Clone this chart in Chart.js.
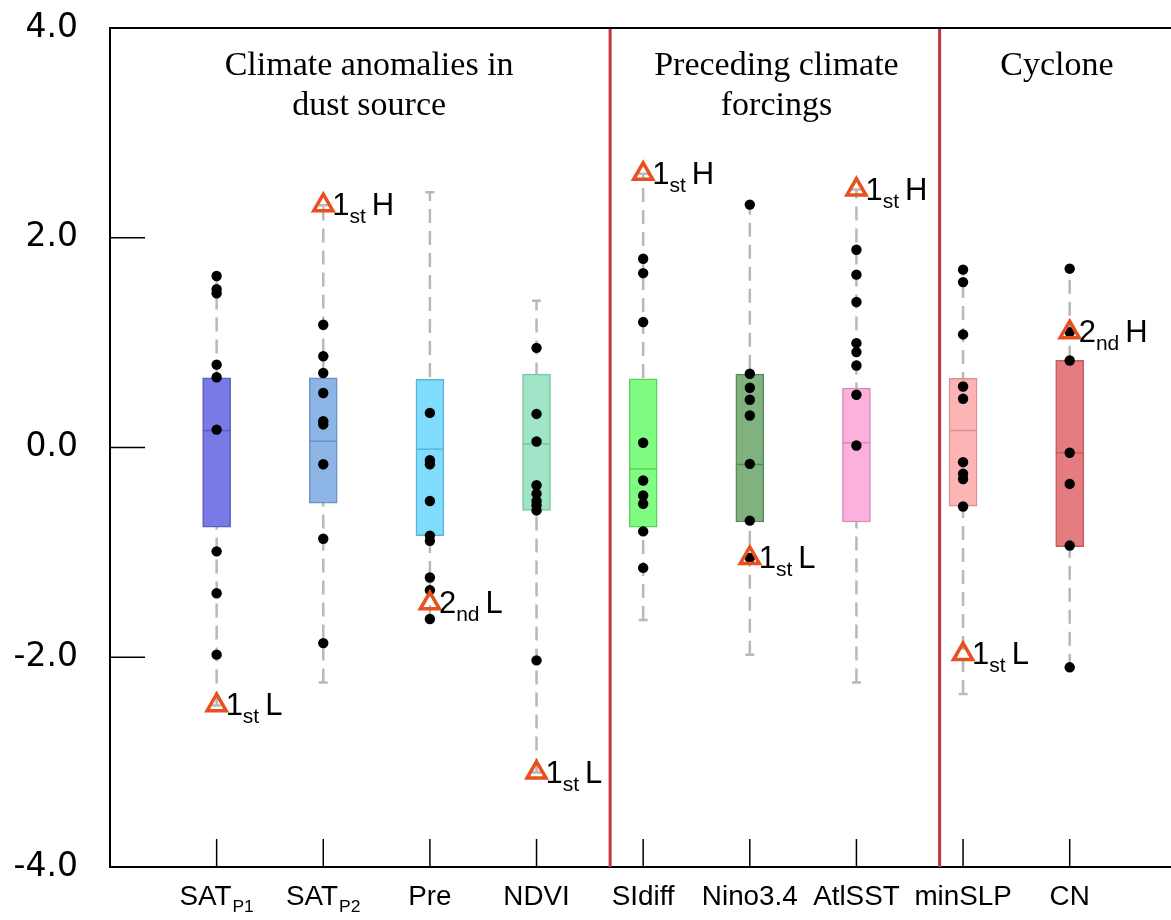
<!DOCTYPE html>
<html>
<head>
<meta charset="utf-8">
<script src="https://cdn.jsdelivr.net/npm/chart.js@4.4.1/dist/chart.umd.min.js"></script>
<style>
html,body{margin:0;padding:0;background:#fff;overflow:hidden}
canvas{display:block}
</style>
</head>
<body>
<canvas id="c" width="1171" height="920"></canvas>
<script>
// ---- categories & labels ----
const categories   = ['SAT','SAT','Pre','NDVI','SIdiff','Nino3.4','AtlSST','minSLP','CN'];
const categorySubs = ['P1','P2','','','','','','',''];
const yTickValues  = [-4, -2, 0, 2, 4];

// ---- box statistics ----
const boxQ1   = [-0.76, -0.53, -0.84, -0.60, -0.76, -0.71, -0.71, -0.56, -0.945];
const boxQ3   = [ 0.665, 0.665, 0.65, 0.70, 0.655, 0.70, 0.566, 0.66, 0.83];
const boxMed  = [ 0.162, 0.06, -0.016, 0.035, -0.204, -0.162, 0.045, 0.162, -0.05];
const whiskLo = [-2.46, -2.24, -1.635, -3.10, -1.645, -1.975, -2.24, -2.35, -2.10];
const whiskHi = [ 1.635, 2.31, 2.435, 1.40, 2.61, 2.316, 2.46, 1.70, 1.705];

// ---- individual years (dots) ----
const ptsSATP1  = [1.635, 1.51, 1.47, 0.79, 0.67, 0.17, -0.99, -1.39, -1.975];
const ptsSATP2  = [1.17, 0.87, 0.71, 0.52, 0.25, 0.22, -0.16, -0.87, -1.865];
const ptsPre    = [0.33, -0.12, -0.16, -0.51, -0.84, -0.89, -1.24, -1.36, -1.635];
const ptsNDVI   = [0.95, 0.32, 0.057, -0.36, -0.44, -0.51, -0.55, -0.60, -2.03];
const ptsSIdiff = [1.80, 1.663, 1.196, 0.045, -0.315, -0.458, -0.537, -0.80, -1.148];
const ptsNino   = [2.316, 0.703, 0.57, 0.455, 0.305, -0.156, -0.697, -1.053];
const ptsAtlSST = [1.886, 1.648, 1.387, 0.995, 0.91, 0.782, 0.503, 0.019];
const ptsMinSLP = [1.696, 1.577, 1.078, 0.582, 0.465, -0.14, -0.25, -0.30, -0.563];
const ptsCN     = [1.705, 1.10, 0.83, -0.05, -0.347, -0.935, -2.096];
const pointSeries = [ptsSATP1, ptsSATP2, ptsPre, ptsNDVI, ptsSIdiff, ptsNino, ptsAtlSST, ptsMinSLP, ptsCN];

// ---- highlighted extreme years (triangles) ----
const triValue  = [-2.457, 2.31, -1.486, -3.10, 2.61, -1.053, 2.459, -1.97, 1.10];
const triRank   = ['1','1','2','1','1','1','1','1','2'];
const triSuffix = ['st','st','nd','st','st','st','st','st','nd'];
const triKind   = ['L','H','L','L','H','L','H','L','H'];

// ---- group separators & titles ----
const separators = [4.69, 7.78];
const titleX     = [2.43, 6.25, 8.88];
const titleLine1 = ['Climate anomalies in', 'Preceding climate', 'Cyclone'];
const titleLine2 = ['dust source', 'forcings', ''];

// ---- colours ----
const boxFill   = ['#7a7ae6','#8cb4e4','#80dcfc','#a0e4c8','#80fc80','#80b280','#fcb0dc','#fcb4b4','#e47c80'];
const boxBorder = ['#5b5bc0','#6a92c4','#5cb4d8','#7cc4a4','#5cd05c','#5a8a5a','#d68cb8','#dc9090','#c45c60'];

const X_MIN = 0, X_MAX = 9.95;
const MED_HALF = 0.131, CAP_HALF = 0.042;

// build datasets from the arrays
const pos = categories.map((_, i) => i + 1);

const whiskerData = [];
pos.forEach((p, i) => {
  whiskerData.push({x: p, y: whiskLo[i]}, {x: p, y: whiskHi[i]}, {x: p, y: null});
});
const capData = [];
pos.forEach((p, i) => {
  capData.push({x: p - CAP_HALF, y: whiskLo[i]}, {x: p + CAP_HALF, y: whiskLo[i]}, {x: p, y: null});
  capData.push({x: p - CAP_HALF, y: whiskHi[i]}, {x: p + CAP_HALF, y: whiskHi[i]}, {x: p, y: null});
});
const sepData = [];
separators.forEach(s => {
  sepData.push({x: s, y: -4}, {x: s, y: 4}, {x: s, y: null});
});
const dotData = [];
pointSeries.forEach((arr, i) => arr.forEach(v => dotData.push({x: pos[i], y: v})));
const triData = triValue.map((v, i) => ({x: pos[i], y: v}));

const datasets = [
  { type: 'line', data: whiskerData, borderColor: '#b8b8b8', borderWidth: 2.5, borderDash: [14, 8],
    pointRadius: 0, spanGaps: false, order: 10 },
  { type: 'line', data: capData, borderColor: '#b8b8b8', borderWidth: 2.5,
    pointRadius: 0, spanGaps: false, order: 9 },
  { type: 'bar', data: pos.map((p, i) => ({x: p, y: [boxQ1[i], boxQ3[i]]})),
    backgroundColor: boxFill, borderColor: boxBorder, borderWidth: 1.5, borderSkipped: false,
    barThickness: 28, order: 8 }
];
pos.forEach((p, i) => {
  datasets.push({ type: 'line', data: [{x: p - MED_HALF, y: boxMed[i]}, {x: p + MED_HALF, y: boxMed[i]}],
    borderColor: boxBorder[i], borderWidth: 1.5, pointRadius: 0, order: 7 });
});
datasets.push(
  { type: 'line', data: sepData, borderColor: '#c8323c', borderWidth: 3, pointRadius: 0, spanGaps: false, order: 6 },
  { type: 'line', data: dotData, showLine: false, pointRadius: 5.2, pointBackgroundColor: '#000',
    pointBorderWidth: 0, order: 2 },
  { type: 'line', data: triData, showLine: false, pointStyle: 'triangle', pointRadius: 11,
    pointBorderColor: '#e8501e', pointBackgroundColor: 'rgba(255,255,255,0)', pointBorderWidth: 3.5, order: 1 }
);

function scaledText(ctx, str, x, y, sx) {
  ctx.save(); ctx.translate(x, y); ctx.scale(sx, 1); ctx.fillText(str, 0, 0); ctx.restore();
  return ctx.measureText(str).width * sx;
}

const deco = {
  id: 'deco',
  afterDraw(chart) {
    const {ctx, chartArea: a, scales: {x, y}} = chart;
    ctx.save();
    ctx.strokeStyle = '#000';
    // top frame line
    ctx.lineWidth = 2;
    ctx.beginPath(); ctx.moveTo(a.left, a.top); ctx.lineTo(a.right, a.top); ctx.stroke();
    // inward y ticks
    ctx.lineWidth = 1.5;
    yTickValues.forEach(v => {
      const py = y.getPixelForValue(v);
      ctx.beginPath(); ctx.moveTo(a.left, py); ctx.lineTo(a.left + 35, py); ctx.stroke();
    });
    // inward x ticks
    pos.forEach(p => {
      const px = x.getPixelForValue(p);
      ctx.beginPath(); ctx.moveTo(px, a.bottom); ctx.lineTo(px, a.bottom - 28); ctx.stroke();
    });
    ctx.fillStyle = '#000';
    ctx.textAlign = 'left';
    ctx.textBaseline = 'alphabetic';
    // x category labels with subscripts
    const SX = 1.03;
    const F1 = '27px "Liberation Sans", Arial, sans-serif';
    const F2 = '17px "Liberation Sans", Arial, sans-serif';
    categories.forEach((c, i) => {
      const px = x.getPixelForValue(pos[i]);
      ctx.font = F1;
      const w1 = ctx.measureText(c).width * SX;
      ctx.font = F2;
      const w2 = categorySubs[i] ? ctx.measureText(categorySubs[i]).width * SX + 1 : 0;
      let cx = px - (w1 + w2) / 2;
      ctx.font = F1;
      cx += scaledText(ctx, c, cx, a.bottom + 38, SX) + 1;
      if (categorySubs[i]) {
        ctx.font = F2;
        scaledText(ctx, categorySubs[i], cx, a.bottom + 45, SX);
      }
    });
    // triangle labels
    triValue.forEach((v, i) => {
      const px = x.getPixelForValue(pos[i]);
      const py = y.getPixelForValue(v);
      let cx = px + 9;
      ctx.font = '31px "Liberation Sans", Arial, sans-serif';
      cx += scaledText(ctx, triRank[i], cx, py + 10, 1);
      ctx.font = '21px "Liberation Sans", Arial, sans-serif';
      cx += scaledText(ctx, triSuffix[i], cx, py + 18, 1) + 6;
      ctx.font = '31px "Liberation Sans", Arial, sans-serif';
      scaledText(ctx, triKind[i], cx, py + 10, 1);
    });
    // group titles
    ctx.textAlign = 'center';
    ctx.font = '34px "Liberation Serif", "Times New Roman", serif';
    titleX.forEach((t, i) => {
      const px = x.getPixelForValue(t);
      ctx.fillText(titleLine1[i], px, a.top + 47);
      if (titleLine2[i]) ctx.fillText(titleLine2[i], px, a.top + 87);
    });
    ctx.restore();
  }
};

function zeroPad(s) { s.paddingTop = 0; s.paddingBottom = 0; s.paddingLeft = 0; s.paddingRight = 0; }

new Chart(document.getElementById('c'), {
  type: 'bar',
  data: { datasets },
  options: {
    responsive: false,
    animation: false,
    events: [],
    layout: { autoPadding: false, padding: { top: 28, right: 0, left: 0, bottom: 0 } },
    plugins: { legend: { display: false }, tooltip: { enabled: false } },
    scales: {
      x: {
        type: 'linear', min: X_MIN, max: X_MAX, offset: false,
        grid: { display: true, drawOnChartArea: false, drawTicks: false },
        border: { display: true, color: '#000', width: 2 },
        ticks: { display: false },
        afterFit(s) { s.height = 53; zeroPad(s); }
      },
      y: {
        min: -4, max: 4,
        afterBuildTicks(s) { s.ticks = yTickValues.map(v => ({value: v})); },
        ticks: {
          callback: v => v.toFixed(1),
          font: { family: '"DejaVu Sans", sans-serif', size: 33 },
          color: '#000', padding: 32
        },
        grid: { display: true, drawOnChartArea: false, drawTicks: false },
        border: { display: true, color: '#000', width: 2 },
        afterFit(s) { s.width = 110; zeroPad(s); }
      }
    }
  },
  plugins: [deco]
});
</script>
</body>
</html>
